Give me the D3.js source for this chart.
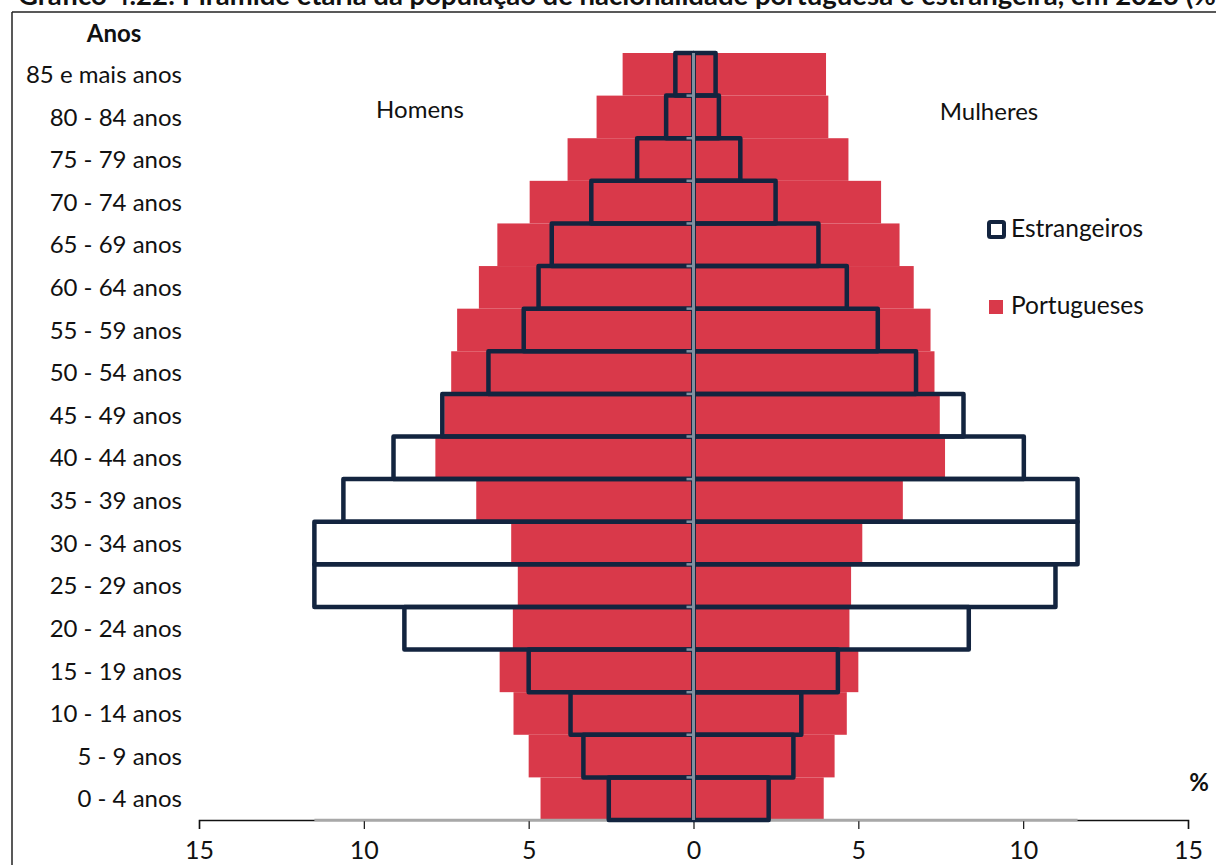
<!DOCTYPE html>
<html>
<head>
<meta charset="utf-8">
<script src="https://cdn.jsdelivr.net/npm/d3@7"></script>
<style>
  html, body { margin: 0; padding: 0; background: #fff; }
  svg { display: block; }
  text { font-family: Lato, "Open Sans", sans-serif; fill: #111; }
</style>
</head>
<body>
<svg id="chart" width="1216" height="865"></svg>
<script>
// ---- Data (values in %) ----
const ages = ["0 - 4 anos","5 - 9 anos","10 - 14 anos","15 - 19 anos","20 - 24 anos","25 - 29 anos",
  "30 - 34 anos","35 - 39 anos","40 - 44 anos","45 - 49 anos","50 - 54 anos","55 - 59 anos",
  "60 - 64 anos","65 - 69 anos","70 - 74 anos","75 - 79 anos","80 - 84 anos","85 e mais anos"];
const portuguesesHomens   = [4.64, 5.00, 5.46, 5.88, 5.48, 5.33, 5.53, 6.59, 7.83, 7.56, 7.35, 7.17, 6.51, 5.95, 4.97, 3.82, 2.94, 2.15];
const portuguesesMulheres = [3.95, 4.28, 4.65, 5.00, 4.73, 4.78, 5.12, 6.35, 7.63, 7.47, 7.31, 7.19, 6.68, 6.25, 5.69, 4.70, 4.09, 4.02];
const estrangeirosHomens   = [2.57, 3.34, 3.73, 5.00, 8.77, 11.50, 11.50, 10.62, 9.10, 7.62, 6.22, 5.15, 4.70, 4.30, 3.10, 1.71, 0.83, 0.55];
const estrangeirosMulheres = [2.28, 3.03, 3.27, 4.38, 8.35, 10.98, 11.65, 11.65, 10.02, 8.19, 6.75, 5.59, 4.65, 3.79, 2.49, 1.42, 0.77, 0.67];
const xTicks = [-15, -10, -5, 0, 5, 10, 15];
const titleText = "Gráfico 4.22: Pirâmide etária da população de nacionalidade portuguesa e estrangeira, em 2023 (%)";
const legendLabels = ["Estrangeiros", "Portugueses"];

const RED = "#d9394a";
const NAVY = "#13243f";
const AXISGRAY = "#8090a0";

const svg = d3.select("#chart");

// scales
const x = d3.scaleLinear().domain([-15, 15]).range([199, 1188]);
const y = d3.scaleBand().domain(ages.slice().reverse()).range([53, 820]).padding(0);

// title (clipped at top, as in the reference)
svg.append("text").attr("x", 18).attr("y", 5)
  .attr("font-size", 27.5).attr("font-weight", "bold").text(titleText);

// frame
svg.append("line").attr("x1", 12).attr("x2", 1216).attr("y1", 12).attr("y2", 12)
  .attr("stroke", "#222").attr("stroke-width", 1.5);
svg.append("line").attr("x1", 12).attr("x2", 12).attr("y1", 12).attr("y2", 865)
  .attr("stroke", "#222").attr("stroke-width", 1.5);

const rows = ages.map((a, i) => ({
  age: a,
  pm: portuguesesHomens[i], pw: portuguesesMulheres[i],
  em: estrangeirosHomens[i], ew: estrangeirosMulheres[i]
}));

// Portuguese bars (filled)
svg.append("g").selectAll("rect.pm").data(rows).join("rect")
  .attr("x", d => x(-d.pm)).attr("width", d => x(0) - x(-d.pm))
  .attr("y", d => y(d.age)).attr("height", y.bandwidth()).attr("fill", RED);
svg.append("g").selectAll("rect.pw").data(rows).join("rect")
  .attr("x", x(0)).attr("width", d => x(d.pw) - x(0))
  .attr("y", d => y(d.age)).attr("height", y.bandwidth()).attr("fill", RED);

// x axis
const axisY = 820;
const xAxis = d3.axisBottom(x).tickValues(xTicks).tickFormat(d => Math.abs(d)).tickSize(9).tickPadding(12);
const gx = svg.append("g").attr("transform", `translate(0,${axisY})`).call(xAxis);
gx.select(".domain").attr("stroke", "#111").attr("stroke-width", 1.5);
gx.selectAll(".tick line").attr("stroke", "#111").attr("stroke-width", 1.2);
gx.selectAll(".tick text").attr("font-size", 25).attr("font-family", "Lato, sans-serif").attr("fill", "#111");
// gray baseline segment under the foreigners' extent
svg.append("line")
  .attr("x1", x(-d3.max(estrangeirosHomens))).attr("x2", x(d3.max(estrangeirosMulheres)))
  .attr("y1", axisY).attr("y2", axisY).attr("stroke", "#a8a8a8").attr("stroke-width", 2.5);

// Foreigner bars (outlines)
const ol = svg.append("g").attr("fill", "none").attr("stroke", NAVY).attr("stroke-width", 4.5).attr("stroke-linejoin", "round");
ol.selectAll("rect.em").data(rows).join("rect")
  .attr("x", d => x(-d.em)).attr("width", d => x(0) - x(-d.em))
  .attr("y", d => y(d.age)).attr("height", y.bandwidth());
ol.selectAll("rect.ew").data(rows).join("rect")
  .attr("x", x(0)).attr("width", d => x(d.ew) - x(0))
  .attr("y", d => y(d.age)).attr("height", y.bandwidth());

// central vertical axis with small ticks
svg.append("line").attr("x1", x(0)).attr("x2", x(0)).attr("y1", y.range()[0]).attr("y2", axisY)
  .attr("stroke", AXISGRAY).attr("stroke-width", 3);
svg.append("g").selectAll("line").data(ages.slice(0, ages.length - 1)).join("line")
  .attr("x1", x(0) - 7).attr("x2", x(0))
  .attr("y1", d => y(d)).attr("y2", d => y(d))
  .attr("stroke", AXISGRAY).attr("stroke-width", 2.5);

// category labels
svg.append("g").selectAll("text").data(ages).join("text")
  .attr("x", 182).attr("y", d => y(d) + y.bandwidth() / 2).attr("dy", "0.36em")
  .attr("text-anchor", "end").attr("font-size", 24).text(d => d);

svg.append("text").attr("x", 114).attr("y", 42).attr("text-anchor", "middle")
  .attr("font-size", 24).attr("font-weight", "bold").text("Anos");

svg.append("text").attr("x", 420).attr("y", 118).attr("text-anchor", "middle")
  .attr("font-size", 24).text("Homens");
svg.append("text").attr("x", 989).attr("y", 120).attr("text-anchor", "middle")
  .attr("font-size", 24).text("Mulheres");

svg.append("text").attr("x", 1199).attr("y", 791).attr("text-anchor", "middle")
  .attr("font-size", 24).attr("font-weight", "bold").text("%");

// legend
const lg = svg.append("g");
lg.append("rect").attr("x", 989).attr("y", 222).attr("width", 15).attr("height", 15)
  .attr("fill", "#fff").attr("stroke", NAVY).attr("stroke-width", 4).attr("rx", 1.5);
lg.append("text").attr("x", 1011).attr("y", 237).attr("font-size", 24.5).text(legendLabels[0]);
lg.append("rect").attr("x", 989).attr("y", 300).attr("width", 14).attr("height", 14).attr("fill", RED);
lg.append("text").attr("x", 1011).attr("y", 314).attr("font-size", 24.5).text(legendLabels[1]);
</script>
</body>
</html>
